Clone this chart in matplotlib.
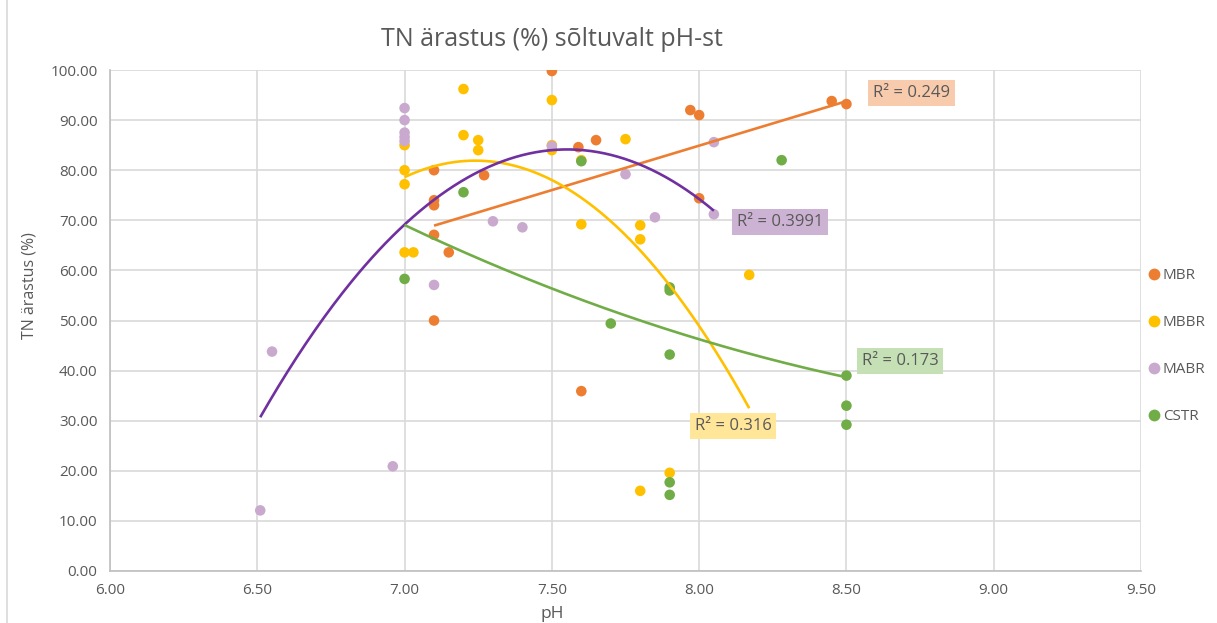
import numpy as np
import matplotlib
matplotlib.use("Agg")
from matplotlib import pyplot as plt
from matplotlib.lines import Line2D

plt.rcParams['font.family'] = ['Open Sans', 'DejaVu Sans']

TEXT = '#595959'
GRID = '#D9D9D9'

# pH and TN removal (%) per reactor type
mbr_ph = [7.50, 8.45, 8.50, 7.97, 8.00, 7.65, 7.59, 7.10, 7.27, 7.10, 7.10, 8.00, 7.10, 7.15, 7.10, 7.60]
mbr_tn = [99.8, 93.8, 93.2, 92.0, 91.0, 86.0, 84.6, 80.0, 79.0, 74.0, 73.0, 74.4, 67.1, 63.6, 50.0, 35.9]

mbbr_ph = [7.20, 7.50, 7.20, 7.25, 7.25, 7.75, 7.50, 7.50, 7.00, 7.00, 7.00, 7.60, 7.60, 7.80, 7.80,
           7.00, 7.03, 8.17, 7.90, 7.80]
mbbr_tn = [96.2, 94.0, 87.0, 86.0, 84.0, 86.2, 85.0, 84.0, 85.0, 80.0, 77.2, 82.0, 69.2, 69.0, 66.2,
           63.6, 63.6, 59.1, 19.6, 16.0]

mabr_ph = [7.00, 7.00, 7.00, 7.00, 7.00, 7.50, 7.75, 8.05, 8.05, 7.85, 7.30, 7.40, 7.10, 6.55, 6.96, 6.51]
mabr_tn = [92.4, 90.0, 87.5, 86.6, 85.8, 84.8, 79.2, 85.6, 71.2, 70.6, 69.8, 68.6, 57.1, 43.8, 20.9, 12.1]

cstr_ph = [7.60, 8.28, 7.20, 7.00, 7.90, 7.90, 7.70, 7.90, 8.50, 8.50, 8.50, 7.90, 7.90]
cstr_tn = [81.8, 82.0, 75.6, 58.3, 56.0, 56.6, 49.4, 43.2, 39.0, 33.0, 29.2, 17.7, 15.2]

r2_labels = ['R² = 0.249', 'R² = 0.316', 'R² = 0.3991', 'R² = 0.173']

series = [
    # name, x, y, marker colour, trend colour, trend type, label pos, box colour
    ('MBR', mbr_ph, mbr_tn, '#ED7D31', '#ED7D31', 'linear', (8.722, 95.4), '#F8CBAD'),
    ('MBBR', mbbr_ph, mbbr_tn, '#FFC000', '#FFC000', 'poly2', (8.115, 28.9), '#FFE699'),
    ('MABR', mabr_ph, mabr_tn, '#C9AACE', '#7030A0', 'poly2', (8.274, 69.7), '#CDB3D3'),
    ('CSTR', cstr_ph, cstr_tn, '#70AD47', '#70AD47', 'poly2', (8.682, 41.9), '#C5E0B4'),
]


def trend(x, y, kind):
    x = np.asarray(x)
    y = np.asarray(y)
    xs = np.linspace(x.min(), x.max(), 200)
    deg = 1 if kind == 'linear' else 2
    return xs, np.polyval(np.polyfit(x, y, deg), xs)


fig = plt.figure(figsize=(12.17, 6.23), dpi=100)
ax = fig.add_axes([110 / 1217, 52 / 623, 1031 / 1217, 501 / 623])

for name, x, y, mc, tc, kind, pos, box in series:
    ax.scatter(x, y, s=58, color=mc, edgecolors='none', zorder=3, label=name)

for i, (name, x, y, mc, tc, kind, pos, box) in enumerate(series):
    xs, ys = trend(x, y, kind)
    ax.plot(xs, ys, color=tc, lw=1.9, zorder=4, solid_capstyle='butt')
    ax.text(pos[0], pos[1], r2_labels[i], color=TEXT, fontsize=12, ha='center', va='center',
            zorder=5, bbox=dict(boxstyle='square,pad=0.3', fc=box, ec='none'))

ax.set_xlim(6.0, 9.5)
ax.set_ylim(0, 100)
ax.set_xticks(np.arange(6.0, 9.51, 0.5))
ax.set_yticks(np.arange(0, 100.1, 10))
ax.xaxis.set_major_formatter(plt.FormatStrFormatter('%.2f'))
ax.yaxis.set_major_formatter(plt.FormatStrFormatter('%.2f'))
ax.tick_params(length=0, labelsize=11, labelcolor=TEXT, pad=9)
ax.grid(True, color=GRID, lw=1.2, zorder=0)
ax.set_axisbelow(True)
for side in ['top', 'right']:
    ax.spines[side].set_visible(False)
for side in ['left', 'bottom']:
    ax.spines[side].set_color('#BFBFBF')
    ax.spines[side].set_linewidth(1.2)

fig.text(552 / 1217, 1 - 40 / 623, 'TN ärastus (%) sõltuvalt pH-st', fontsize=18, color=TEXT,
         ha='center', va='center')
fig.text(30 / 1217, 1 - 286 / 623, 'TN ärastus (%)', fontsize=11.5, color=TEXT, rotation=90,
         ha='center', va='center')
fig.text(552 / 1217, 1 - 606 / 623, 'pH', fontsize=12.5, color=TEXT, ha='center', va='top')

handles = [Line2D([], [], ls='none', marker='o', ms=8.5, mfc=s[3], mec='none') for s in series]
fig.legend(handles, [s[0] for s in series], loc='upper left', bbox_to_anchor=(1143 / 1217, 1 - 262 / 623),
           frameon=False, fontsize=11, labelcolor=TEXT, handlelength=0.6, handletextpad=0.3,
           labelspacing=2.1, borderaxespad=0)

fig.add_artist(Line2D([7 / 1217, 7 / 1217], [0, 1], color='#D9D9D9', lw=1.2))

fig.savefig('out.png', dpi=100)
